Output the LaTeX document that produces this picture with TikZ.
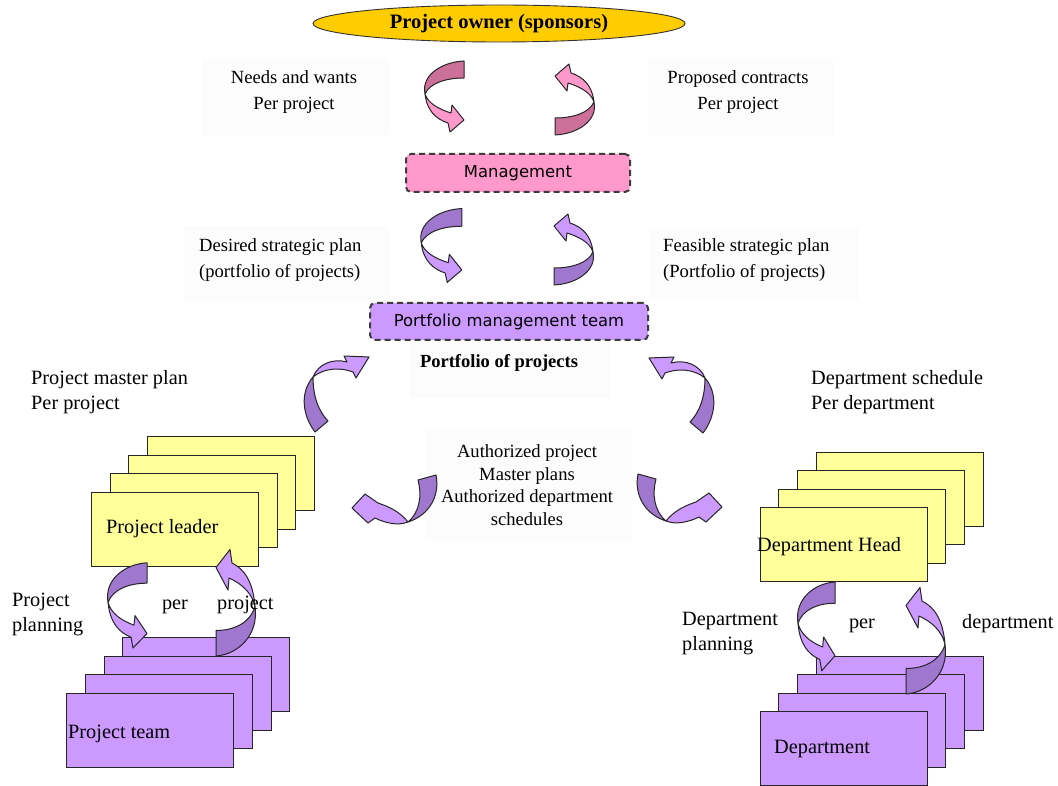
\documentclass[tikz,border=0pt]{standalone}
\usepackage{fontspec}
\setmainfont{Liberation Serif}
\newfontfamily\uisans{DejaVu Sans}
\usetikzlibrary{shapes.geometric}

\definecolor{ownergold}{HTML}{FFCC00}
\definecolor{mgmtpink}{HTML}{FF99CC}
\definecolor{pinkdark}{HTML}{CC7099}
\definecolor{teampurple}{HTML}{CC99FF}
\definecolor{purpledark}{HTML}{A077CF}
\definecolor{leadyellow}{HTML}{FFFF99}
\definecolor{labelbg}{HTML}{FCFCFC}
\definecolor{dashgray}{HTML}{3C3C3C}

\tikzset{
  lbl/.style={inner sep=0pt, font=\fontsize{18.6}{26}\selectfont},
  lblbig/.style={inner sep=0pt, font=\fontsize{20.3}{25}\selectfont},
  oneline/.style={text height=14pt, text depth=4pt},
  dashbox/.style={draw=dashgray, line width=2pt, dash pattern=on 6pt off 4pt,
    rounded corners=5pt, inner sep=0pt, font=\uisans\fontsize{16.4}{20}\selectfont},
  card/.style={draw=black!85, line width=1.2pt, minimum width=167pt,
    minimum height=74pt, inner sep=0pt, anchor=north west},
  faint/.style={fill=labelbg, draw=none, inner sep=0pt},
  ribbonline/.style={draw=black!85, line width=1pt, line join=round},
}

% C-shaped twisted ribbon arrow: tail at upper right, head at lower right
\newcommand\ribbonA[3]{%
  \begin{scope}[#1]
    \filldraw[ribbonline, fill=#2] (20,-36) -- (20,-19)
      .. controls (2,-19) and (-14,-14) .. (-19,-3)
      .. controls (-23,-22) and (-2,-35) .. (20,-36) -- cycle;
    \filldraw[ribbonline, fill=#3] (-19,-3)
      .. controls (-17,14) and (-8,22) .. (4,26) -- (6,35) -- (20,23)
      -- (8,8) -- (7,16) .. controls (-6,12) and (-16,6) .. (-19,-3) -- cycle;
  \end{scope}}

% J-shaped ribbon arrow: tail at top right, turning under, head to the left
\newcommand\ribbonJ[3]{%
  \begin{scope}[#1]
    \filldraw[ribbonline, fill=#2] (40,-25)
      .. controls (44,-5) and (34,15) .. (12,22)
      .. controls (24,12) and (26,-5) .. (22,-20) -- cycle;
    \filldraw[ribbonline, fill=#3] (12,22)
      .. controls (2,26) and (-11,23) .. (-21,18) -- (-28,23) -- (-44,8)
      -- (-31,-6) -- (-18,3) .. controls (-6,7) and (4,12) .. (12,22) -- cycle;
  \end{scope}}

% Ribbon arrow rising from the bottom, arching over, head to the upper right
\newcommand\ribbonK[3]{%
  \begin{scope}[#1]
    \filldraw[ribbonline, fill=#2] (-20,40)
      .. controls (-33,23) and (-35,0) .. (-22,-15)
      .. controls (-22,0) and (-19,16) .. (-7,29) -- cycle;
    \filldraw[ribbonline, fill=#3] (-22,-15)
      .. controls (-17,-28) and (-2,-34) .. (12,-30) -- (9,-36) -- (34,-35)
      -- (21,-14) -- (18,-20) .. controls (5,-25) and (-11,-24) .. (-22,-15) -- cycle;
  \end{scope}}

\begin{document}
\begin{tikzpicture}[x=1pt, y=-1pt]
\useasboundingbox[fill=white] (0,0) rectangle (1058,786);

% soft label backgrounds
\node[faint, minimum width=187pt, minimum height=76pt] (bgneeds) at (295,97) {};
\node[faint, minimum width=185pt, minimum height=76pt] (bgproposed) at (740,97) {};
\node[faint, minimum width=205pt, minimum height=75pt] (bgdesired) at (286,264) {};
\node[faint, minimum width=210pt, minimum height=72pt] (bgfeasible) at (754,264) {};
\node[faint, minimum width=200pt, minimum height=55pt] (bgportfolio) at (510,370) {};
\node[faint, minimum width=207pt, minimum height=112pt] (bgauth) at (528,485) {};

% top of the hierarchy
\node[ellipse, draw=black!80, line width=0.9pt, fill=ownergold, minimum width=372pt,
  minimum height=37pt, inner sep=0pt, font=\bfseries\fontsize{20.5}{24}\selectfont]
  (owner) at (499,23.5) {Project owner (sponsors)};
\node[dashbox, fill=mgmtpink, minimum width=224pt, minimum height=38pt]
  (mgmt) at (518,173) {Management};
\node[dashbox, fill=teampurple, minimum width=278pt, minimum height=37pt]
  (pmt) at (509,321.5) {Portfolio management team};

% project leaders and project teams
\node[card, fill=leadyellow] (lead4) at (147,436) {};
\node[card, fill=leadyellow] (lead3) at (128,455) {};
\node[card, fill=leadyellow] (lead2) at (110,473) {};
\node[card, fill=leadyellow] (lead1) at (91,492) {};
\node[card, fill=teampurple] (team4) at (122,637) {};
\node[card, fill=teampurple] (team3) at (104,656) {};
\node[card, fill=teampurple] (team2) at (85,674) {};
\node[card, fill=teampurple] (team1) at (66,693) {};

% department heads and departments
\node[card, fill=leadyellow] (head4) at (816,452) {};
\node[card, fill=leadyellow] (head3) at (797,470) {};
\node[card, fill=leadyellow] (head2) at (778,489) {};
\node[card, fill=leadyellow] (head1) at (760,507) {};
\node[card, fill=teampurple] (dept4) at (816,656) {};
\node[card, fill=teampurple] (dept3) at (797,674) {};
\node[card, fill=teampurple] (dept2) at (778,693) {};
\node[card, fill=teampurple] (dept1) at (760,711) {};

% flows between owner and management
\ribbonA{shift={(444,97)}}{pinkdark}{mgmtpink}
\ribbonA{shift={(575,99)}, rotate=180}{pinkdark}{mgmtpink}
% flows between management and portfolio team
\ribbonA{shift={(441,246)}, scale=1.04}{purpledark}{teampurple}
\ribbonA{shift={(574,249)}, rotate=180}{purpledark}{teampurple}
% flows between portfolio team and the two branches
\ribbonK{shift={(335,392)}}{purpledark}{teampurple}
\ribbonK{shift={(683,393)}, xscale=-1}{purpledark}{teampurple}
\ribbonJ{shift={(396,500)}}{purpledark}{teampurple}
\ribbonJ{shift={(678,499)}, xscale=-1}{purpledark}{teampurple}
% planning loops
\ribbonA{shift={(127,606)}, yscale=1.2}{purpledark}{teampurple}
\ribbonA{shift={(236,602)}, rotate=180, yscale=1.5}{purpledark}{teampurple}
\ribbonA{shift={(816,627)}, xscale=0.95, yscale=1.25}{purpledark}{teampurple}
\ribbonA{shift={(926,640)}, rotate=180, yscale=1.5}{purpledark}{teampurple}

% labels
\node[lbl, align=center] (needs) at (294,92) {Needs and wants\\Per project};
\node[lbl, align=center] (proposed) at (738,92) {Proposed contracts\\Per project};
\node[lbl, align=left, anchor=west] (desired) at (199,260) {Desired strategic plan\\(portfolio of projects)};
\node[lbl, align=left, anchor=west] (feasible) at (663,260) {Feasible strategic plan\\(Portfolio of projects)};
\node[oneline, inner sep=0pt, font=\bfseries\fontsize{18.5}{22}\selectfont] (portfolio) at (499,362) {Portfolio of projects};
\node[lblbig, align=left, anchor=west] (masterplan) at (31,392) {Project master plan\\Per project};
\node[lblbig, align=left, anchor=west] (deptsched) at (811,392) {Department schedule\\Per department};
\node[inner sep=0pt, align=center, font=\fontsize{18.6}{22.5}\selectfont] (authorized) at (527,485)
  {Authorized project\\Master plans\\Authorized department\\schedules};
\node[lblbig, oneline, anchor=west] (leadertext) at (106,528) {Project leader};
\node[lblbig, align=left, anchor=west] (projplanning) at (12,614) {Project\\planning};
\node[lblbig, oneline] (per1) at (175,604) {per};
\node[lblbig, oneline, anchor=west] (project1) at (217,604) {project};
\node[lblbig, oneline, anchor=west] (teamtext) at (68,733) {Project team};
\node[lblbig, oneline, anchor=west] (headtext) at (757,546) {Department Head};
\node[lblbig, align=left, anchor=west] (deptplanning) at (682,634) {Department\\planning};
\node[lblbig, oneline] (per2) at (862,623) {per};
\node[lblbig, oneline, anchor=west] (deptword) at (962,623) {department};
\node[lblbig, oneline, anchor=west] (depttext) at (774,748) {Department};
\end{tikzpicture}
\end{document}
